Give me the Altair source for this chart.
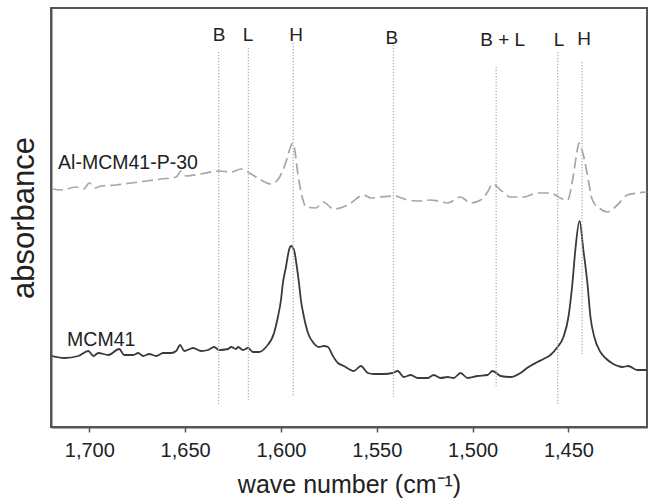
import altair as alt
import pandas as pd

# MCM41 spectrum (solid line)
mcm41_wn = [1719.5, 1713.0, 1705.7, 1700.5, 1697.9, 1695.3, 1690.1, 1684.4, 1681.8, 1677.1,
            1674.5, 1671.9, 1668.8, 1665.1, 1661.5, 1657.3, 1654.7, 1652.6, 1650.5, 1645.8,
            1641.7, 1638.0, 1634.9, 1632.3, 1627.6, 1626.0, 1623.4, 1622.4, 1619.8, 1617.2,
            1614.6, 1611.5, 1607.8, 1603.6, 1601.6, 1600.0, 1599.0, 1597.4, 1595.8, 1594.8,
            1593.2, 1591.7, 1590.6, 1589.6, 1588.0, 1585.9, 1583.0, 1580.2, 1577.6, 1575.5,
            1572.9, 1570.3, 1567.2, 1562.0, 1558.3, 1554.7, 1551.6, 1546.4, 1541.7, 1539.1,
            1535.9, 1532.3, 1528.6, 1523.4, 1520.3, 1516.7, 1513.0, 1509.9, 1506.3, 1502.6,
            1497.4, 1492.2, 1489.6, 1485.4, 1480.2, 1475.0, 1470.8, 1466.1, 1463.0, 1459.4,
            1455.7, 1452.6, 1450.0, 1447.9, 1446.4, 1444.2, 1442.2, 1440.1, 1438.5, 1436.5,
            1433.3, 1430.7, 1426.6, 1421.9, 1418.8, 1414.1, 1409.0]
mcm41_abs = [0.071, 0.069, 0.071, 0.076, 0.071, 0.074, 0.072, 0.078, 0.072, 0.072,
             0.074, 0.071, 0.073, 0.071, 0.074, 0.074, 0.076, 0.082, 0.076, 0.079,
             0.076, 0.077, 0.080, 0.077, 0.078, 0.080, 0.078, 0.080, 0.077, 0.079,
             0.075, 0.075, 0.080, 0.094, 0.110, 0.127, 0.144, 0.160, 0.177, 0.181,
             0.177, 0.160, 0.144, 0.127, 0.110, 0.094, 0.084, 0.080, 0.081, 0.080,
             0.071, 0.064, 0.061, 0.056, 0.061, 0.054, 0.053, 0.053, 0.054, 0.056,
             0.050, 0.052, 0.049, 0.049, 0.052, 0.049, 0.050, 0.049, 0.054, 0.049,
             0.051, 0.052, 0.056, 0.051, 0.050, 0.054, 0.060, 0.065, 0.068, 0.072,
             0.080, 0.090, 0.110, 0.144, 0.177, 0.206, 0.177, 0.144, 0.110, 0.090,
             0.075, 0.069, 0.063, 0.060, 0.061, 0.057, 0.057]

# Al-MCM41-P-30 spectrum (dashed line)
al_wn = [1719.5, 1714.6, 1706.8, 1703.0, 1700.0, 1697.0, 1693.8, 1685.9, 1678.1, 1670.3,
         1662.5, 1654.7, 1652.1, 1649.5, 1641.7, 1632.3, 1626.0, 1620.8, 1615.6, 1610.4,
         1605.2, 1601.0, 1597.4, 1595.0, 1594.0, 1593.0, 1591.1, 1588.5, 1587.0, 1581.8,
         1578.1, 1572.4, 1565.1, 1556.8, 1553.0, 1547.9, 1541.1, 1533.9, 1527.1, 1522.0,
         1518.2, 1513.0, 1506.3, 1501.0, 1495.8, 1492.2, 1489.6, 1485.4, 1480.2, 1473.4,
         1466.1, 1459.4, 1456.0, 1454.2, 1450.5, 1447.4, 1445.3, 1444.5, 1443.5, 1442.2,
         1440.1, 1437.5, 1433.3, 1429.7, 1424.5, 1419.3, 1414.1, 1409.0]
al_abs = [0.238, 0.237, 0.240, 0.238, 0.244, 0.239, 0.241, 0.242, 0.244, 0.246,
          0.248, 0.250, 0.256, 0.251, 0.253, 0.256, 0.255, 0.258, 0.253, 0.247,
          0.243, 0.249, 0.265, 0.280, 0.284, 0.279, 0.252, 0.227, 0.220, 0.219,
          0.225, 0.218, 0.222, 0.232, 0.229, 0.230, 0.231, 0.227, 0.226, 0.227,
          0.226, 0.224, 0.230, 0.224, 0.227, 0.235, 0.243, 0.237, 0.230, 0.230,
          0.234, 0.234, 0.231, 0.229, 0.227, 0.252, 0.278, 0.284, 0.280, 0.272,
          0.252, 0.227, 0.218, 0.215, 0.222, 0.232, 0.234, 0.235]

# Band marker lines
band_wn = [1632.5, 1617.0, 1593.6, 1541.3, 1487.7, 1455.6, 1442.9]
band_top = [0.375, 0.379, 0.384, 0.382, 0.360, 0.375, 0.365]
band_bottom = [0.023, 0.027, 0.031, 0.030, 0.040, 0.023, 0.073]

# Band labels
label_text = ["B", "L", "H", "B", "B + L", "L", "H"]
label_wn = [1632.3, 1617.2, 1592.1, 1542.2, 1484.3, 1454.9, 1441.8]
label_abs = [0.3925, 0.392, 0.3925, 0.389, 0.387, 0.387, 0.388]

# Series labels
series_text = ["Al-MCM41-P-30", "MCM41"]
series_wn = [1716.3, 1711.6]
series_abs = [0.264, 0.087]

tick_values = [1700, 1650, 1600, 1550, 1500, 1450]
x_domain = [1409, 1720]
y_domain = [0, 0.419]

FONT = "Liberation Sans"

mcm = pd.DataFrame({"wn": mcm41_wn, "a": mcm41_abs})
al = pd.DataFrame({"wn": al_wn, "a": al_abs})
bands = pd.DataFrame({"wn": band_wn, "top": band_top, "bottom": band_bottom})
labels = pd.DataFrame({"wn": label_wn, "a": label_abs, "t": label_text})
series = pd.DataFrame({"wn": series_wn, "a": series_abs, "t": series_text})

xscale = alt.Scale(domain=x_domain, reverse=True, nice=False, zero=False)
yscale = alt.Scale(domain=y_domain, nice=False, zero=False)

xaxis = alt.Axis(values=tick_values, format=",d", title="wave number (cm⁻¹)",
                 grid=False, labelFontSize=20, labelFont=FONT, labelColor="#222",
                 tickSize=5, tickColor="#555", tickWidth=1.5, domainColor="#555", domainWidth=2,
                 labelPadding=8, titleFont=FONT, titleFontSize=25, titleFontWeight="normal",
                 titleColor="#222", titlePadding=12)
yaxis = alt.Axis(labels=False, ticks=False, grid=False, title="absorbance",
                 domainColor="#555", domainWidth=2, titleFont=FONT, titleFontSize=31,
                 titleFontWeight="normal", titleColor="#222", titlePadding=11)

base_x = alt.X("wn:Q", scale=xscale, axis=xaxis)
base_y = alt.Y("a:Q", scale=yscale, axis=yaxis)

solid = alt.Chart(mcm).mark_line(color="#3a3a3a", strokeWidth=1.8, interpolate="monotone").encode(
    x=base_x, y=base_y)
dashed = alt.Chart(al).mark_line(color="#a6a6a6", strokeWidth=1.7, strokeDash=[11, 5],
                                 interpolate="monotone").encode(
    x=alt.X("wn:Q", scale=xscale), y=alt.Y("a:Q", scale=yscale))
rules = alt.Chart(bands).mark_rule(color="#b0b0b0", strokeWidth=1.3, strokeDash=[1.3, 1.7]).encode(
    x=alt.X("wn:Q", scale=xscale), y=alt.Y("top:Q", scale=yscale), y2="bottom:Q")
band_labels = alt.Chart(labels).mark_text(font=FONT, fontSize=19, color="#222",
                                          baseline="middle", align="center").encode(
    x=alt.X("wn:Q", scale=xscale), y=alt.Y("a:Q", scale=yscale), text="t:N")
series_labels = alt.Chart(series).mark_text(font=FONT, fontSize=19.5, color="#222",
                                            baseline="middle", align="left").encode(
    x=alt.X("wn:Q", scale=xscale), y=alt.Y("a:Q", scale=yscale), text="t:N")

chart = alt.layer(solid, dashed, rules, band_labels, series_labels).properties(
    width=596, height=419,
    autosize=alt.AutoSizeParams(type="none"),
    padding={"left": 51, "top": 8, "right": 6, "bottom": 72},
    background="white",
).configure_view(stroke="#555", strokeWidth=2)

chart.save("out.html", embed_options={"renderer": "svg", "actions": False})
